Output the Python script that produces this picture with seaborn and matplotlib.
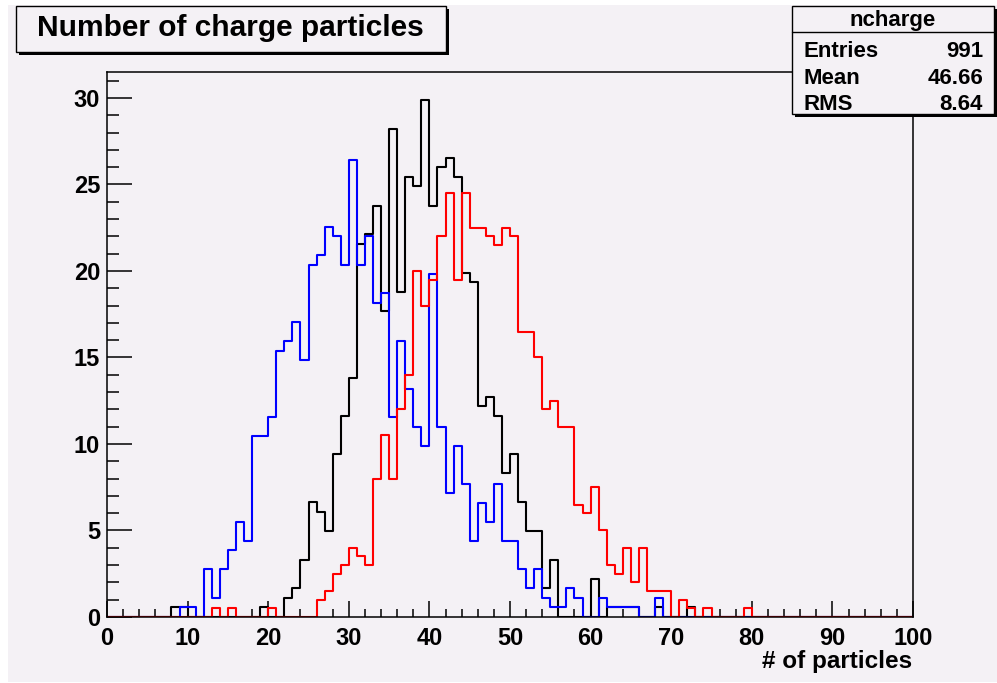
import numpy as np
import pandas as pd
import matplotlib
matplotlib.use("Agg")
import matplotlib.pyplot as plt
from matplotlib.patches import Rectangle
from matplotlib.lines import Line2D
from matplotlib.ticker import MultipleLocator
import seaborn as sns

# ---- data: bin contents of three 1-unit-wide histograms on [0, 100) ----
bin_edges = list(range(0, 101))

black_first_bin = 8
black_values = [
    0.55, 0.55, 0, 0, 0, 0, 0, 0, 0, 0, 0, 0.55, 0, 0,          # 8-21
    1.11, 1.66, 3.32, 6.64, 6.08, 4.98, 9.40, 11.61, 13.83,      # 22-30
    21.57, 22.12, 23.78, 17.70, 28.20, 18.80, 25.44, 24.89,      # 31-38
    29.86, 23.78, 26.00, 26.55, 25.44, 19.91, 19.36, 12.17,      # 39-46
    12.72, 11.61, 8.30, 9.40, 6.64, 4.98, 4.98, 1.66, 3.32,      # 47-55
    0, 0, 0, 0, 2.21, 0, 0.55, 0.55, 0.55, 0.55, 0, 0, 0.55,     # 56-68
    0, 0, 0, 0.55,                                               # 69-72
]

blue_first_bin = 9
blue_values = [
    0.55, 0.55, 0, 2.75, 1.10, 2.75, 3.85, 5.50, 4.40,           # 9-17
    10.45, 10.45, 11.55, 15.40, 15.95, 17.05, 14.85, 20.35,      # 18-25
    20.90, 22.55, 22.00, 20.35, 26.40, 20.35, 22.00, 18.15,      # 26-33
    18.70, 11.55, 15.95, 13.20, 11.00, 9.90, 19.80, 11.00,       # 34-41
    7.15, 9.90, 7.70, 4.40, 6.60, 5.50, 7.70, 4.40, 4.40,        # 42-50
    2.75, 1.65, 2.75, 1.10, 0.55, 0.55, 1.65, 1.10, 0, 0,        # 51-60
    1.10, 0.55, 0.55, 0.55, 0.55, 0, 0, 1.10,                    # 61-68
]

red_first_bin = 13
red_values = [
    0.5, 0, 0.5, 0, 0, 0, 0, 0.5, 0, 0, 0, 0, 0,                 # 13-25
    1.0, 1.5, 2.5, 3.0, 4.0, 3.5, 3.0, 8.0, 10.5, 8.0,           # 26-35
    12.0, 14.0, 20.0, 18.0, 19.5, 22.0, 24.5, 19.5, 24.5,        # 36-44
    22.5, 22.5, 22.0, 21.5, 22.5, 22.0, 16.5, 16.5, 15.0,        # 45-53
    12.0, 12.5, 11.0, 11.0, 6.5, 6.0, 7.5, 5.0, 3.0, 2.5,        # 54-63
    4.0, 2.0, 4.0, 1.5, 1.5, 1.5, 0, 1.0, 0.5, 0, 0.5,           # 64-74
    0, 0, 0, 0, 0.5,                                             # 75-79
]

title_text = "Number of charge particles"
x_title = "# of particles"
stats_name = "ncharge"
stats_labels = ["Entries", "Mean", "RMS"]
stats_values = ["991", "46.66", "8.64"]


def to_frame(first_bin, values):
    lows = np.arange(first_bin, first_bin + len(values))
    return pd.DataFrame({"x": lows + 0.5, "w": values})


# ---- styling ----
sns.set_style("ticks")
plt.rcParams["font.family"] = ["Liberation Sans", "DejaVu Sans"]
plt.rcParams["font.weight"] = "bold"
plt.rcParams["text.color"] = "black"
plt.rcParams["xtick.color"] = "black"
plt.rcParams["ytick.color"] = "black"
plt.rcParams["axes.edgecolor"] = "black"

W, H = 997, 683
bg = "#f4f1f5"

fig = plt.figure(figsize=(W / 100, H / 100), dpi=100, facecolor="white")
fig.patches.append(Rectangle((8 / W, 1 / H), 1, 1 - 6 / H, transform=fig.transFigure,
                             facecolor=bg, edgecolor="none", zorder=-10))


def px_rect(x0, y0, x1, y1, **kw):
    """Rectangle given in pixel coordinates measured from the top-left corner."""
    return Rectangle((x0 / W, 1 - y1 / H), (x1 - x0) / W, (y1 - y0) / H,
                     transform=fig.transFigure, **kw)


ax = fig.add_axes([107 / W, 1 - 617 / H, (913 - 107) / W, (617 - 72) / H])
ax.set_facecolor(bg)

for first, vals, color in [(black_first_bin, black_values, "black"),
                           (blue_first_bin, blue_values, "blue"),
                           (red_first_bin, red_values, "red")]:
    d = to_frame(first, vals)
    sns.histplot(data=d, x="x", weights="w", bins=bin_edges, element="step",
                 fill=False, color=color, linewidth=1.5, ax=ax)

ax.set_xlim(0, 100)
ax.set_ylim(0, 31.5)
ax.set_xlabel("")
ax.set_ylabel("")

ax.xaxis.set_major_locator(MultipleLocator(10))
ax.xaxis.set_minor_locator(MultipleLocator(2))
ax.yaxis.set_major_locator(MultipleLocator(5))
ax.yaxis.set_minor_locator(MultipleLocator(1))
ax.tick_params(axis="x", which="major", direction="in", length=11.5, width=1.1,
               labelsize=17, pad=7, top=False, colors="black")
ax.tick_params(axis="x", which="minor", direction="in", length=5.8, width=1.1,
               top=False, colors="black")
ax.tick_params(axis="y", which="major", direction="in", length=18, width=1.1,
               labelsize=17, pad=5, right=False, colors="black")
ax.tick_params(axis="y", which="minor", direction="in", length=8.6, width=1.1,
               right=False, colors="black")
for lbl in ax.get_xticklabels() + ax.get_yticklabels():
    lbl.set_fontweight("bold")
    lbl.set_color("black")
for sp in ax.spines.values():
    sp.set_visible(True)
    sp.set_linewidth(1.1)
    sp.set_color("black")

fig.text(912 / W, 1 - 668 / H, x_title, ha="right", va="baseline",
         fontsize=17.5, fontweight="bold", color="black")

# ---- title box with drop shadow ----
fig.patches.append(px_rect(19, 9, 449, 55, facecolor="black", edgecolor="none", zorder=5))
fig.patches.append(px_rect(16, 6, 446, 52, facecolor=bg, edgecolor="black",
                           linewidth=1.0, zorder=6))
fig.text(230 / W, 1 - 36 / H, title_text, ha="center", va="baseline",
         fontsize=21.5, fontweight="bold", color="black", zorder=7)

# ---- statistics box ----
fig.patches.append(px_rect(795, 9, 997, 117, facecolor="black", edgecolor="none", zorder=5))
fig.patches.append(px_rect(792, 6, 994, 114, facecolor=bg, edgecolor="black",
                           linewidth=1.0, zorder=6))
fig.lines.append(Line2D([792 / W, 994 / W], [1 - 32 / H, 1 - 32 / H],
                        transform=fig.transFigure, color="black", linewidth=1.0, zorder=7))
fig.text(893 / W, 1 - 26 / H, stats_name, ha="center", va="baseline",
         fontsize=16, fontweight="bold", color="black", zorder=7)
for i, (lab, val) in enumerate(zip(stats_labels, stats_values)):
    yb = 1 - (57 + 26.5 * i) / H
    fig.text(803 / W, yb, lab, ha="left", va="baseline", fontsize=16,
             fontweight="bold", color="black", zorder=7)
    fig.text(983 / W, yb, val, ha="right", va="baseline", fontsize=16,
             fontweight="bold", color="black", zorder=7)

fig.savefig("out.png", dpi=100, facecolor=fig.get_facecolor())
